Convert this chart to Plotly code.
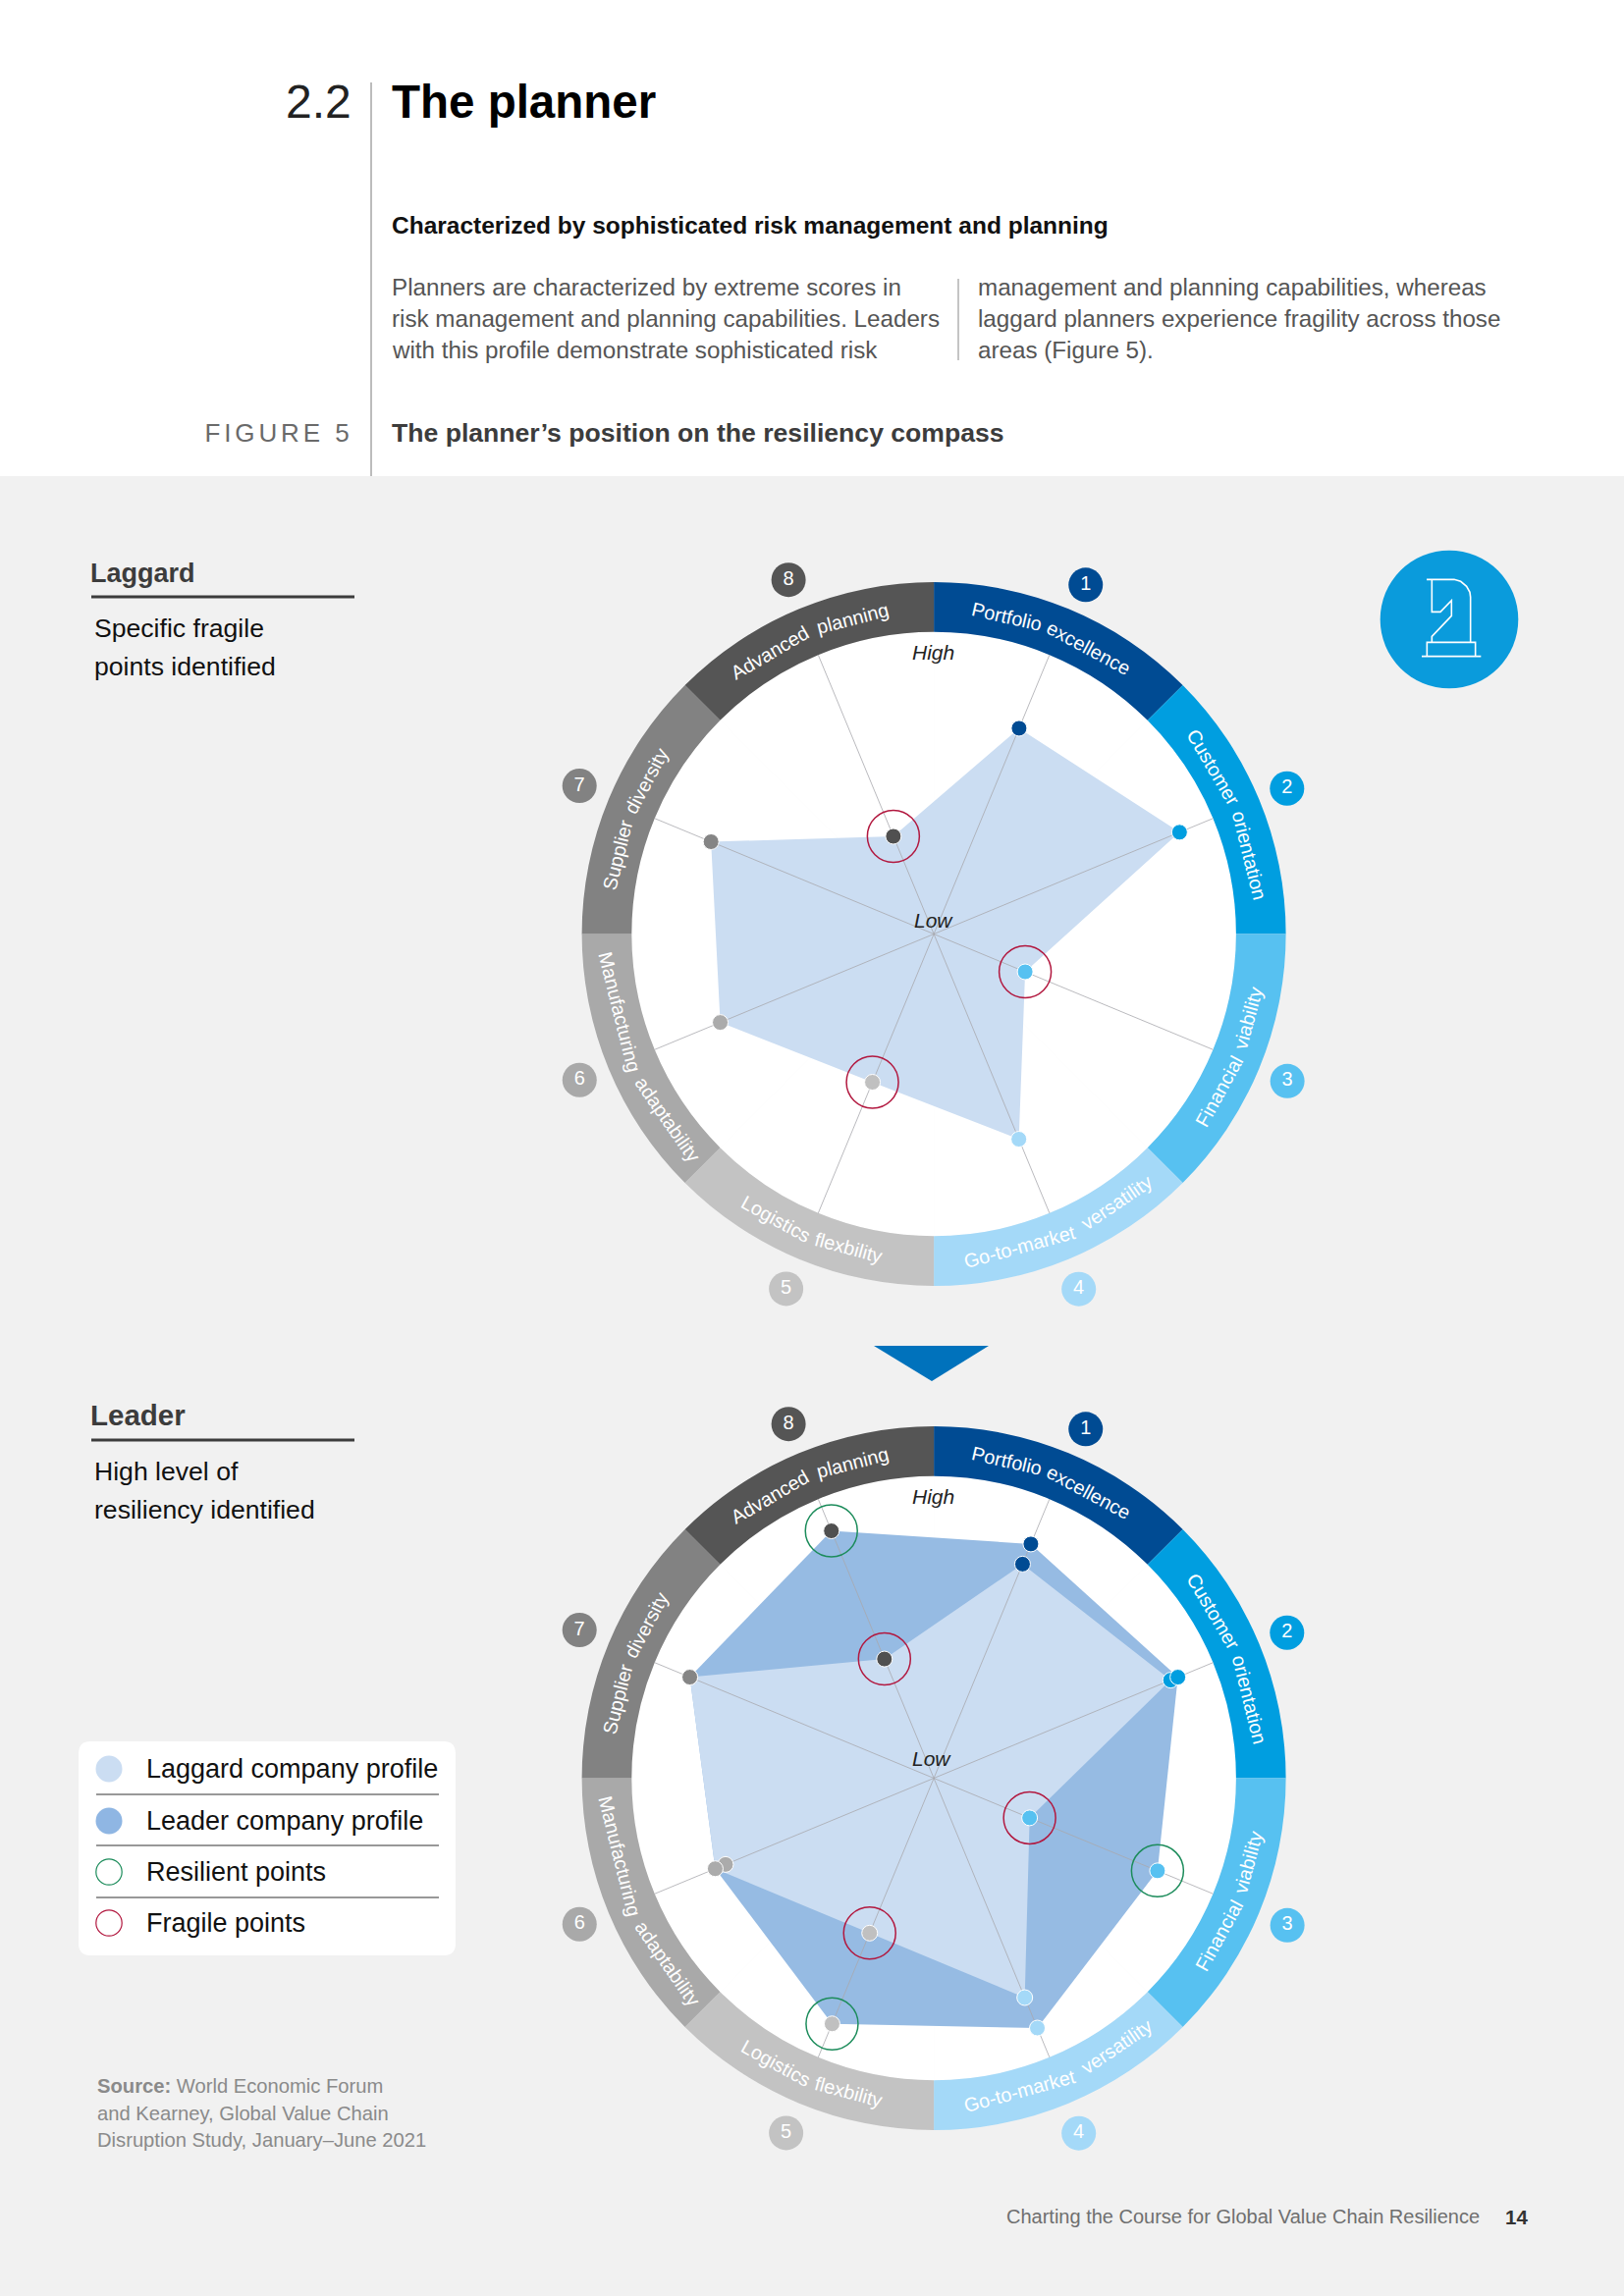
import math
import plotly.graph_objects as go

W, H = 1654, 2339

# ---------- data ----------
AXES = ["Portfolio excellence", "Customer orientation", "Financial viability", "Go-to-market versatility",
        "Logistics flexbility", "Manufacturing adaptability", "Supplier diversity", "Advanced planning"]
THETA = [22.5, 67.5, 112.5, 157.5, 202.5, 247.5, 292.5, 337.5]
RING_COLORS = ["#004b93", "#009ee0", "#57c1f1", "#a4d9f8", "#c3c3c3", "#a9a9a9", "#828282", "#555555"]
DOT_COLORS = ["#004b93", "#009ee0", "#57c1f1", "#a4d9f8", "#c0c0c0", "#ababab", "#858585", "#505050"]
NUMBERS = ["1", "2", "3", "4", "5", "6", "7", "8"]
BADGE_THETA = [23.5, 67.6, 112.6, 157.8, 202.6, 247.6, 292.7, 337.7]
BADGE_R = [126.0, 126.4, 126.7, 126.9, 127.2, 126.8, 127.1, 126.7]

LAGGARD_TOP = [73.7, 88.0, 32.7, 73.5, 53.1, 76.5, 79.8, 35.0]
BOTTOM_LAGGARD = [76.7, 84.8, 34.3, 78.6, 55.5, 74.6, 87.4, 42.7]
BOTTOM_LAGGARD_AREA = [76.7, 84.8, 34.3, 78.6, 55.5, 78.3, 87.4, 42.7]
BOTTOM_LEADER = [83.9, 87.4, 80.1, 89.5, 88.0, 78.3, 87.4, 88.6]
FRAGILE_AXES = [2, 4, 7]
RESILIENT_AXES = [2, 4, 7]

WORDS = ["Portfolio", "excellence", "Customer", "orientation", "Financial", "viability",
         "Go-to-market", "versatility", "Logistics", "flexbility", "Manufacturing", "adaptability",
         "Supplier", "diversity", "Advanced", "planning"]
WORD_THETA = [12.9, 28.4, 59.2, 76.0, 118.9, 105.0, 164.6, 145.8,
              208.9, 195.2, 256.0, 235.2, 284.0, 298.1, 329.7, 345.5]
WORD_TILT = [0, 0, 0, 0, -180, -180, -180, -180, -180, -180, -180, -180, -360, -360, -360, -360]

BODY_LEFT = ["Planners are characterized by extreme scores in",
             "risk management and planning capabilities. Leaders",
             "with this profile demonstrate sophisticated risk"]
BODY_RIGHT = ["management and planning capabilities, whereas",
              "laggard planners experience fragility across those",
              "areas (Figure 5)."]
LEGEND_LABELS = ["Laggard company profile", "Leader company profile", "Resilient points", "Fragile points"]
SOURCE_LINES = ["<b>Source:</b> World Economic Forum", "and Kearney, Global Value Chain",
                "Disruption Study, January–June 2021"]

# ---------- style ----------
FONT = "Liberation Sans"
GREY_BG = "#f1f1f1"
LAG_FILL = "#cbddf2"
LEAD_FILL = "#96bbe3"
RED = "#b2183f"
GREEN = "#1c8c5b"
INNER_PX = 307.8
OUTER_PX = 358.5
RING_TOP = 100 * OUTER_PX / INNER_PX
RVIEW = 137.0
VIEW_PX = RVIEW * INNER_PX / 100
CX = 951.1
TOP_CY, BOT_CY = 951.5, 1811.5


def px(x):
    return x / W


def py(y):
    return 1 - y / H


annotations, shapes = [], []


def text(x, base, s, size, color="#222222", anchor="left", bold=False, italic=False):
    """Place text by its baseline in page pixels."""
    label = f"<b>{s}</b>" if bold else s
    label = f"<i>{label}</i>" if italic else label
    annotations.append(dict(
        x=px(x), y=py(base - 0.34 * size), xref="paper", yref="paper", text=label, showarrow=False,
        xanchor=anchor, yanchor="middle", align=anchor, borderpad=0,
        font=dict(family=FONT, size=size, color=color)))


def rect(x0, y0, x1, y1, fill, layer="below"):
    shapes.append(dict(type="rect", xref="paper", yref="paper", x0=px(x0), x1=px(x1), y0=py(y0), y1=py(y1),
                       fillcolor=fill, line=dict(width=0), layer=layer))


def hline(x0, x1, y, color, width):
    shapes.append(dict(type="line", xref="paper", yref="paper", x0=px(x0), x1=px(x1), y0=py(y), y1=py(y),
                       line=dict(color=color, width=width)))


def vline(x, y0, y1, color, width):
    shapes.append(dict(type="line", xref="paper", yref="paper", x0=px(x), x1=px(x), y0=py(y0), y1=py(y1),
                       line=dict(color=color, width=width)))


def circle(cx, cy, r, fill, line_color=None, lw=0):
    shapes.append(dict(type="circle", xref="paper", yref="paper", x0=px(cx - r), x1=px(cx + r),
                       y0=py(cy + r), y1=py(cy - r), fillcolor=fill,
                       line=dict(color=line_color or fill, width=lw)))


def path(points, close=False, fill=None, color="white", lw=1.5):
    d = "M " + " L ".join(f"{px(a):.5f},{py(b):.5f}" for a, b in points) + (" Z" if close else "")
    shapes.append(dict(type="path", xref="paper", yref="paper", path=d,
                       fillcolor=fill or "rgba(0,0,0,0)", line=dict(color=color, width=lw)))


# ---------- page furniture ----------
rect(0, 485, W, H, GREY_BG)
vline(378, 84, 485, "#7a7a7a", 1)
vline(976, 284, 367, "#8a8a8a", 1)
text(359, 120, "2.2", 48, "#222222", "right")
text(398, 120, "The planner", 47.5, "#000000", bold=True)
text(398, 238, "Characterized by sophisticated risk management and planning", 24.5, "#111111", bold=True)
for i, b in enumerate([301, 333, 365]):
    text(398, b, BODY_LEFT[i], 24.2, "#555555")
    text(995, b, BODY_RIGHT[i], 24.2, "#555555")
text(284, 450, "FIGURE 5", 26, "#6a6a6a", "center")
text(398, 450, "The planner’s position on the resiliency compass", 26.6, "#3c3c3c", bold=True)

for off, head, head_size, l1, l2 in [(0, "Laggard", 27, "Specific fragile", "points identified"),
                                     (859, "Leader", 29.5, "High level of", "resiliency identified")]:
    text(90.5, 593 + off, head, head_size, "#3c3c3c", bold=True)
    hline(93, 361, 608 + off, "#3c3c3c", 3)
    text(95, 649 + off, l1, 26.6, "#111111")
    text(95, 688 + off, l2, 26.6, "#111111")

# legend panel
shapes.append(dict(type="path", xref="paper", yref="paper", layer="above", line=dict(width=0), fillcolor="white",
                   path=(f"M {px(92)},{py(1774)} L {px(452)},{py(1774)} Q {px(464)},{py(1774)} {px(464)},{py(1786)} "
                         f"L {px(464)},{py(1980)} Q {px(464)},{py(1992)} {px(452)},{py(1992)} "
                         f"L {px(92)},{py(1992)} Q {px(80)},{py(1992)} {px(80)},{py(1980)} "
                         f"L {px(80)},{py(1786)} Q {px(80)},{py(1774)} {px(92)},{py(1774)} Z")))
ROW_Y = [1802, 1855, 1907, 1959]
for y in [1828, 1880, 1933]:
    hline(98, 447, y, "#333333", 1)
circle(111, ROW_Y[0], 13.5, LAG_FILL)
circle(111, ROW_Y[1], 13.5, "#8fb6e3")
circle(111, ROW_Y[2], 13.2, "white", GREEN, 1.2)
circle(111, ROW_Y[3], 13.2, "white", RED, 1.2)
for y, lab in zip(ROW_Y, LEGEND_LABELS):
    text(148, y + 9, lab, 27, "#111111")

for b, s in zip([2132, 2160, 2187], SOURCE_LINES):
    text(98, b, s, 20.2, "#8a8a8a")

text(1024, 2265, "Charting the Course for Global Value Chain Resilience", 20.0, "#6f6f6f")
text(1532, 2265, "14", 20.5, "#333333", bold=True)

# arrow between the compasses
path([(890, 1371), (1007, 1371), (949, 1407)], close=True, fill="#0072bc", color="#0072bc", lw=0)

# knight badge
circle(1476, 631, 70.3, "#0a9bdc")


def kz(x, y):
    return 1391 + x / 3, 550 + y / 3


KNIGHT_OUTLINE = [(186, 121), (270, 121), (290, 127), (308, 142), (318, 160), (320, 175), (320, 313)]
KNIGHT_FACE = [(202, 121), (202, 220), (228, 220), (262, 185), (262, 232), (202, 295), (202, 313)]
KNIGHT_BASE = [(187, 356), (187, 313), (335, 313), (335, 356)]
KNIGHT_FLOOR = [(171, 356), (352, 356)]
for pts in (KNIGHT_OUTLINE, KNIGHT_FACE, KNIGHT_BASE, KNIGHT_FLOOR):
    path([kz(*p) for p in pts], color="white", lw=1.6)

# ---------- compasses ----------
fig = go.Figure()


def closed(seq):
    return list(seq) + [seq[0]]


def dots(values, sp):
    fig.add_trace(go.Scatterpolar(r=values, theta=THETA, mode="markers", subplot=sp, showlegend=False,
                                  hoverinfo="skip",
                                  marker=dict(size=16, color=DOT_COLORS, line=dict(color="white", width=1))))


def rings(values, idx, color, sp):
    fig.add_trace(go.Scatterpolar(r=[values[i] for i in idx], theta=[THETA[i] for i in idx], mode="markers",
                                  subplot=sp, showlegend=False, hoverinfo="skip",
                                  marker=dict(size=53, symbol="circle-open", color=color,
                                              line=dict(color=color, width=1.5))))


def base(sp):
    fig.add_trace(go.Barpolar(r=[100] * 8, base=[0] * 8, theta=THETA, width=[45] * 8, subplot=sp,
                              marker=dict(color="white", line=dict(width=0.6, color="white")),
                              showlegend=False, hoverinfo="skip"))
    fig.add_trace(go.Barpolar(r=[RING_TOP - 100] * 8, base=[100] * 8, theta=THETA, width=[45] * 8, subplot=sp,
                              marker=dict(color=RING_COLORS, line=dict(width=0)), showlegend=False, hoverinfo="skip"))


def area(values, fill, sp):
    fig.add_trace(go.Scatterpolar(r=closed(values), theta=closed(THETA), mode="lines", fill="toself", fillcolor=fill,
                                  line=dict(width=0, color=fill), subplot=sp, showlegend=False, hoverinfo="skip"))


def spokes(sp):
    rr, tt = [], []
    for t in THETA:
        rr += [0, 100, None]
        tt += [t, t, None]
    fig.add_trace(go.Scatterpolar(r=rr, theta=tt, mode="lines", line=dict(color="#a8a8ad", width=0.8), subplot=sp,
                                  connectgaps=False, showlegend=False, hoverinfo="skip"))


def badges(sp):
    fig.add_trace(go.Scatterpolar(r=BADGE_R, theta=BADGE_THETA, mode="markers+text", text=NUMBERS,
                                  textposition="middle center", textfont=dict(family=FONT, size=20, color="white"),
                                  subplot=sp, showlegend=False, hoverinfo="skip",
                                  marker=dict(size=35, color=RING_COLORS, line=dict(width=0))))


base("polar")
area(LAGGARD_TOP, LAG_FILL, "polar")
spokes("polar")
dots(LAGGARD_TOP, "polar")
rings(LAGGARD_TOP, FRAGILE_AXES, RED, "polar")
badges("polar")

base("polar2")
area(BOTTOM_LEADER, LEAD_FILL, "polar2")
area(BOTTOM_LAGGARD_AREA, LAG_FILL, "polar2")
spokes("polar2")
dots(BOTTOM_LAGGARD, "polar2")
dots(BOTTOM_LEADER, "polar2")
rings(BOTTOM_LAGGARD, FRAGILE_AXES, RED, "polar2")
rings(BOTTOM_LEADER, RESILIENT_AXES, GREEN, "polar2")
badges("polar2")


def polar_layout(cy):
    return dict(
        domain=dict(x=[px(CX - VIEW_PX), px(CX + VIEW_PX)], y=[py(cy + VIEW_PX), py(cy - VIEW_PX)]),
        bgcolor="rgba(0,0,0,0)",
        radialaxis=dict(range=[0, RVIEW], visible=False, showgrid=False, showline=False),
        angularaxis=dict(direction="clockwise", rotation=90, visible=False, showgrid=False, showline=False),
        barmode="overlay",
    )


LABEL_R_PX = 333.0
LABEL_SIZE = 19.8
for cy in (TOP_CY, BOT_CY):
    for word, th, tilt in zip(WORDS, WORD_THETA, WORD_TILT):
        a = math.radians(th)
        half_span = 0.25 * len(word) * LABEL_SIZE / LABEL_R_PX
        r_word = LABEL_R_PX * (1 + math.cos(half_span)) / 2
        annotations.append(dict(
            x=px(CX + r_word * math.sin(a)), y=py(cy - r_word * math.cos(a)),
            xref="paper", yref="paper", text=word, showarrow=False, textangle=th + tilt,
            xanchor="center", yanchor="middle", borderpad=0,
            font=dict(family=FONT, size=LABEL_SIZE, color="#ffffff")))

text(951, 672, "High", 21, "#222222", "center", italic=True)
text(951, 945, "Low", 21, "#222222", "center", italic=True)
text(951, 1532, "High", 21, "#222222", "center", italic=True)
text(948.5, 1799, "Low", 21, "#222222", "center", italic=True)

fig.update_layout(
    width=W, height=H, margin=dict(l=0, r=0, t=0, b=0), paper_bgcolor="white", plot_bgcolor="white",
    showlegend=False, polar=polar_layout(TOP_CY), polar2=polar_layout(BOT_CY),
    annotations=annotations, shapes=shapes, font=dict(family=FONT),
)

POST = """
document.body.style.margin='0';
function spaceFigure(){document.querySelectorAll('.annotation-text').forEach(function(t){
 if(t.textContent==='FIGURE 5'){t.style.letterSpacing='3.9px';}});}
spaceFigure(); setTimeout(spaceFigure,50); setTimeout(spaceFigure,300);
"""
fig.write_html("out.html", config=dict(displayModeBar=False), post_script=POST)
